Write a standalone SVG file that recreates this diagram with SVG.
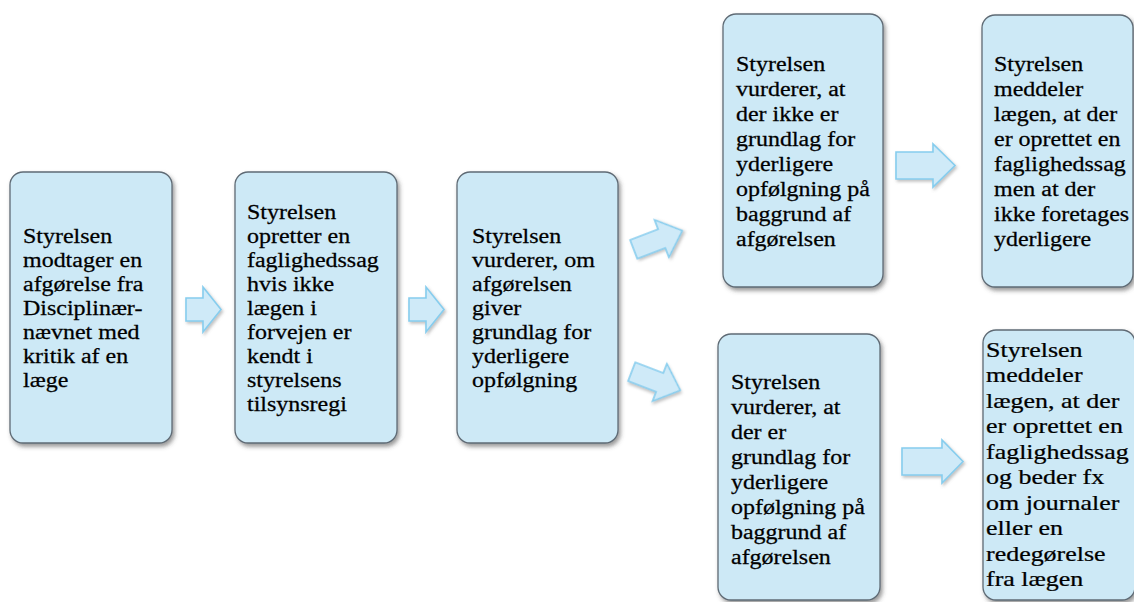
<svg xmlns="http://www.w3.org/2000/svg" width="1134" height="602" viewBox="0 0 1134 602">
<defs>
<filter id="sh" x="-10%" y="-10%" width="130%" height="130%">
<feDropShadow dx="2" dy="3" stdDeviation="2" flood-color="#444" flood-opacity="0.55"/>
</filter>
<filter id="ash" x="-20%" y="-20%" width="150%" height="150%">
<feDropShadow dx="1.5" dy="2" stdDeviation="1.5" flood-color="#777" flood-opacity="0.45"/>
</filter>
<style>
.box{fill:#cde9f6;stroke:#5f6b75;stroke-width:1.3;filter:url(#sh)}
.arr{fill:#cfeaf8;stroke:#86cdee;stroke-width:1.6;stroke-linejoin:miter;filter:url(#ash)}
.t{font-family:"Liberation Serif","Times New Roman",serif;font-size:20.5px;fill:#000;stroke:#000;stroke-width:0.25}
.t2{font-family:"Liberation Serif","Times New Roman",serif;font-size:22px;fill:#000;stroke:#000;stroke-width:0.25}
</style>
</defs>
<rect width="1134" height="602" fill="#fff"/>

<g id="connectors">
<polygon class="arr" points="186,298 203,298 203,287 221,309.5 203,332 203,321 186,321"/>
<polygon class="arr" points="409,298 426,298 426,287 444,309.5 426,332 426,321 409,321"/>
<polygon class="arr" transform="translate(658 240) rotate(-21)" points="-26,-10 4,-10 4,-20 26,0 4,20 4,10 -26,10"/>
<polygon class="arr" transform="translate(656 381) rotate(21)" points="-26,-10 4,-10 4,-20 26,0 4,20 4,10 -26,10"/>
<polygon class="arr" points="896,152 933,152 933,144 955,165.5 933,187 933,179 896,179"/>
<polygon class="arr" points="902,448 942,448 942,440 963,461.5 942,483 942,475 902,475"/>
</g>

<g id="n1">
<rect class="box" x="10" y="172" width="162" height="271" rx="13"/>
<text class="t" transform="translate(23 243) scale(1.17 1)"><tspan x="0" y="0">Styrelsen</tspan><tspan x="0" y="24">modtager en</tspan><tspan x="0" y="48">afgørelse fra</tspan><tspan x="0" y="72">Disciplinær-</tspan><tspan x="0" y="96">nævnet med</tspan><tspan x="0" y="120">kritik af en</tspan><tspan x="0" y="144">læge</tspan></text>
</g>

<g id="n2">
<rect class="box" x="235" y="172" width="162" height="271" rx="13"/>
<text class="t" transform="translate(247 219) scale(1.17 1)"><tspan x="0" y="0">Styrelsen</tspan><tspan x="0" y="24">opretter en</tspan><tspan x="0" y="48">faglighedssag</tspan><tspan x="0" y="72">hvis ikke</tspan><tspan x="0" y="96">lægen i</tspan><tspan x="0" y="120">forvejen er</tspan><tspan x="0" y="144">kendt i</tspan><tspan x="0" y="168">styrelsens</tspan><tspan x="0" y="192">tilsynsregi</tspan></text>
</g>

<g id="n3">
<rect class="box" x="457" y="172" width="161" height="271" rx="13"/>
<text class="t" transform="translate(472 243) scale(1.17 1)"><tspan x="0" y="0">Styrelsen</tspan><tspan x="0" y="24">vurderer, om</tspan><tspan x="0" y="48">afgørelsen</tspan><tspan x="0" y="72">giver</tspan><tspan x="0" y="96">grundlag for</tspan><tspan x="0" y="120">yderligere</tspan><tspan x="0" y="144">opfølgning</tspan></text>
</g>

<g id="n4">
<rect class="box" x="723" y="14" width="160" height="273" rx="13"/>
<text class="t" transform="translate(736 71) scale(1.17 1)"><tspan x="0" y="0">Styrelsen</tspan><tspan x="0" y="25">vurderer, at</tspan><tspan x="0" y="50">der ikke er</tspan><tspan x="0" y="75">grundlag for</tspan><tspan x="0" y="100">yderligere</tspan><tspan x="0" y="125">opfølgning på</tspan><tspan x="0" y="150">baggrund af</tspan><tspan x="0" y="175">afgørelsen</tspan></text>
</g>

<g id="n5">
<rect class="box" x="982" y="15" width="151" height="272" rx="13"/>
<text class="t" transform="translate(994 71) scale(1.17 1)"><tspan x="0" y="0">Styrelsen</tspan><tspan x="0" y="25">meddeler</tspan><tspan x="0" y="50">lægen, at der</tspan><tspan x="0" y="75">er oprettet en</tspan><tspan x="0" y="100">faglighedssag</tspan><tspan x="0" y="125">men at der</tspan><tspan x="0" y="150">ikke foretages</tspan><tspan x="0" y="175">yderligere</tspan></text>
</g>

<g id="n6">
<rect class="box" x="718" y="334" width="162" height="266" rx="13"/>
<text class="t" transform="translate(731 389) scale(1.17 1)"><tspan x="0" y="0">Styrelsen</tspan><tspan x="0" y="25">vurderer, at</tspan><tspan x="0" y="50">der er</tspan><tspan x="0" y="75">grundlag for</tspan><tspan x="0" y="100">yderligere</tspan><tspan x="0" y="125">opfølgning på</tspan><tspan x="0" y="150">baggrund af</tspan><tspan x="0" y="175">afgørelsen</tspan></text>
</g>

<g id="n7">
<rect class="box" x="983" y="330" width="152" height="270" rx="13"/>
<text class="t2" transform="translate(986 357) scale(1.18 1)"><tspan x="0" y="0">Styrelsen</tspan><tspan x="0" y="25.5">meddeler</tspan><tspan x="0" y="51">lægen, at der</tspan><tspan x="0" y="76.5">er oprettet en</tspan><tspan x="0" y="102">faglighedssag</tspan><tspan x="0" y="127.5">og beder fx</tspan><tspan x="0" y="153">om journaler</tspan><tspan x="0" y="178.5">eller en</tspan><tspan x="0" y="204">redegørelse</tspan><tspan x="0" y="229.5">fra lægen</tspan></text>
</g>
</svg>
